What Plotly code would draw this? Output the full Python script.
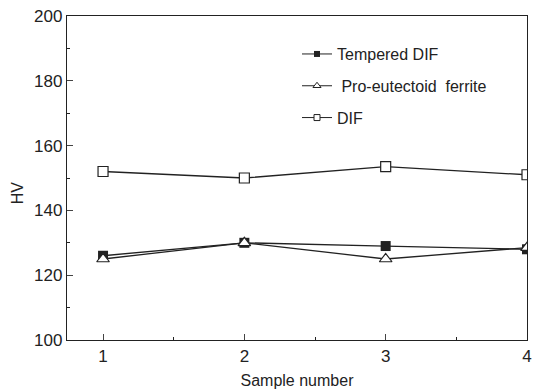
import plotly.graph_objects as go

samples = [1, 2, 3, 4]
tempered_dif = [126, 130, 129, 128]
pro_eutectoid = [125, 130, 125, 128.5]
dif = [152, 150, 153.5, 151]

FONT = "Liberation Sans, Arial, sans-serif"
C = "#222"
fig = go.Figure()
fig.add_trace(go.Scatter(x=samples, y=dif, name="DIF", mode="lines+markers", showlegend=False,
                         line=dict(color=C, width=1.3),
                         marker=dict(symbol="square", size=10, color="white", line=dict(color=C, width=1.2))))
fig.add_trace(go.Scatter(x=samples, y=tempered_dif, name="Tempered DIF", mode="lines+markers", showlegend=False,
                         line=dict(color=C, width=1.3),
                         marker=dict(symbol="square", size=10, color=C)))
fig.add_trace(go.Scatter(x=samples, y=pro_eutectoid, name="Pro-eutectoid ferrite", mode="lines+markers",
                         showlegend=False, line=dict(color=C, width=1.3),
                         marker=dict(symbol="triangle-up", size=11, color="white", line=dict(color=C, width=1.2))))

# legend entries
legend_items = [
    ("Tempered DIF", dict(symbol="square", size=6, color=C)),
    (" Pro-eutectoid  ferrite", dict(symbol="triangle-up", size=7, color="white", line=dict(color=C, width=1))),
    ("DIF", dict(symbol="square", size=6, color="white", line=dict(color=C, width=1))),
]
for i, (nm, mk) in enumerate(legend_items):
    fig.add_trace(go.Scatter(x=[None], y=[None], name=nm, mode="lines+markers",
                             line=dict(color=C, width=1), marker=mk, legendgroup=f"g{i}"))

fig.update_layout(
    width=543, height=389,
    margin=dict(l=67, r=16, t=16, b=49),
    paper_bgcolor="white", plot_bgcolor="white",
    font=dict(family=FONT, size=17, color=C),
    showlegend=True,
    legend=dict(x=0.5, y=0.935, xanchor="left", yanchor="top", bgcolor="rgba(0,0,0,0)",
                font=dict(size=16), tracegroupgap=8, itemwidth=30),
    xaxis=dict(range=[0.745, 4.0], tickvals=samples, ticks="inside", ticklen=6, tickwidth=1,
               showline=True, linecolor=C, linewidth=1.3, mirror=True, showgrid=False,
               zeroline=False, automargin=False,
               title=dict(text="Sample number", font=dict(size=16)),
               minor=dict(tickvals=[1.5, 2.5, 3.5], ticks="inside", ticklen=3, tickcolor=C)),
    yaxis=dict(range=[100, 200], tickvals=[100, 120, 140, 160, 180, 200], ticks="inside", ticklen=6,
               tickwidth=1, showline=True, linecolor=C, linewidth=1.3, mirror=True, showgrid=False,
               zeroline=False, automargin=False,
               minor=dict(tickvals=[110, 130, 150, 170, 190], ticks="inside", ticklen=3, tickcolor=C)),
    annotations=[dict(text="HV", xref="paper", yref="paper", x=-0.107, y=0.455, textangle=-90,
                      showarrow=False, font=dict(size=16), xanchor="center", yanchor="middle")],
)
fig.write_html("out.html")
